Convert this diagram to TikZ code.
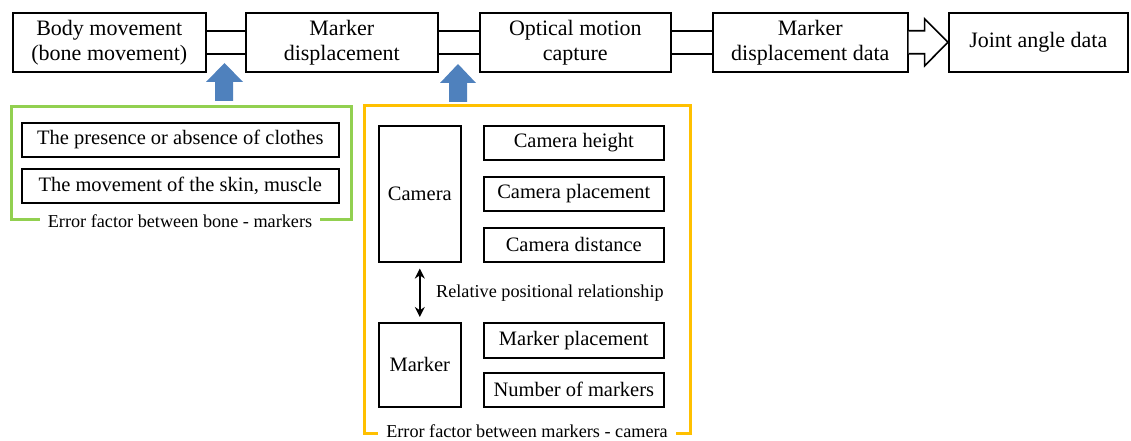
\documentclass[tikz,border=0pt]{standalone}
\usepackage{fontspec}
\setmainfont{Liberation Serif}
\usetikzlibrary{arrows.meta,calc}
\definecolor{ablue}{HTML}{4F81BD}
\definecolor{fgreen}{HTML}{92D050}
\definecolor{forange}{HTML}{FFC000}
\tikzset{
  topbox/.style={draw, line width=1.6pt, inner sep=0pt, align=center, anchor=north west,
    font=\fontsize{22}{25}\selectfont},
  inbox/.style={draw, line width=1.6pt, inner sep=0pt, align=center, anchor=north west,
    font=\fontsize{20.5}{24}\selectfont},
  tube/.style={line width=1.6pt},
  bluearrow/.style={fill=ablue, draw=none},
  frame/.style={line width=3pt},
  framelabel/.style={fill=white, inner xsep=8pt, inner ysep=1pt, font=\fontsize{18.2}{20}\selectfont},
  smalllabel/.style={font=\fontsize{18.2}{20}\selectfont, inner sep=0pt}
}
\begin{document}
\begin{tikzpicture}[x=1pt,y=-1pt]
\useasboundingbox (0,0) rectangle (1131,441);
% top row
\node[topbox, minimum width=193pt, minimum height=59pt] (b1) at (12,12) {Body movement\\(bone movement)};
\node[topbox, minimum width=192pt, minimum height=59pt] (b2) at (245,12) {Marker\\displacement};
\node[topbox, minimum width=191pt, minimum height=59pt] (b3) at (479,12) {Optical motion\\capture};
\node[topbox, minimum width=195pt, minimum height=59pt] (b4) at (712,12) {Marker\\displacement data};
\node[topbox, minimum width=179pt, minimum height=59pt] (b5) at (948,12) {Joint angle data};
% tube connectors
\foreach \a/\b in {b1/b2,b2/b3,b3/b4}{
  \draw[tube] ([yshift=11.5pt]\a.east) -- ([yshift=11.5pt]\b.west);
  \draw[tube] ([yshift=-11.5pt]\a.east) -- ([yshift=-11.5pt]\b.west);
}
% hollow block arrow
\draw[tube, fill=white, line join=miter]
  ([yshift=11.5pt]b4.east) -- ++(16,0) -- ++(0,-12) -- (b5.west)
  -- ($([yshift=-11.5pt]b4.east)+(16,12)$) -- ++(0,-12) -- ([yshift=-11.5pt]b4.east);
% green frame
\draw[frame, draw=fgreen] (11,107) rectangle (351,219);
\node[framelabel] (gl) at (180,221) {Error factor between bone - markers};
\node[inbox, minimum width=317pt, minimum height=34pt] (g1) at (21,122) {The presence or absence of clothes};
\node[inbox, minimum width=317pt, minimum height=34pt] (g2) at (21,168) {The movement of the skin, muscle};
% orange frame
\draw[frame, draw=forange] (364,106) rectangle (690,433);
\node[framelabel, inner ysep=0pt] (ol) at (527,431) {Error factor between markers - camera};
\node[inbox, minimum width=82pt, minimum height=136pt] (cam) at (378,125) {Camera};
\node[inbox, minimum width=180pt, minimum height=34pt] (c1) at (483,125) {Camera height};
\node[inbox, minimum width=180pt, minimum height=34pt] (c2) at (483,176) {Camera placement};
\node[inbox, minimum width=180pt, minimum height=34pt] (c3) at (483,227) {Camera distance};
\node[inbox, minimum width=82pt, minimum height=84pt] (mk) at (378,322) {Marker};
\node[inbox, minimum width=180pt, minimum height=35pt] (m1) at (483,322) {Marker placement};
\node[inbox, minimum width=180pt, minimum height=34pt] (m2) at (483,372) {Number of markers};
\draw[line width=2.2pt, {Stealth[length=10pt,width=10pt]}-{Stealth[length=10pt,width=10pt]}]
  ([yshift=-6pt]cam.south) -- ([yshift=5pt]mk.north);
\node[smalllabel, anchor=west] (rel) at (436,293) {Relative positional relationship};
% blue arrows
\draw[bluearrow] (215,101) -- (215,82) -- (206,82) -- (224.5,63) -- (243,82) -- (233,82) -- (233,101) -- cycle;
\draw[bluearrow] (449,102) -- (449,83) -- (440,83) -- (458,64) -- (476,83) -- (467,83) -- (467,102) -- cycle;
\end{tikzpicture}
\end{document}
